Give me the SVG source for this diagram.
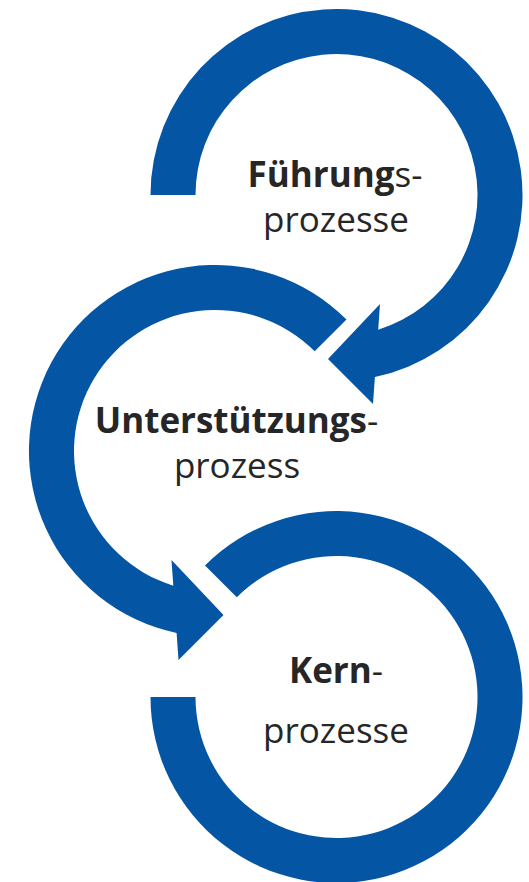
<svg xmlns="http://www.w3.org/2000/svg" width="529" height="882" viewBox="0 0 529 882">
  <style>
    .ring { fill: #0455a4; stroke: none; }
    .lbl { font-family: "Open Sans", "Noto Sans", "Liberation Sans", sans-serif; font-size: 35px; fill: #262626; text-anchor: middle; }
    .b { font-weight: bold; }
  </style>
  <rect width="529" height="882" fill="#ffffff"/>
  <g id="connectors">
    <path id="ring-fuehrung" class="ring" d="M150.5,195 A186,186 0 1 1 374.9,377 L373,404 L328,359 L380,304 L378.2,329.7 A141,141 0 1 0 195.5,195 Z"/>
    <path id="ring-unterstuetzung" class="ring" d="M346.5,319.5 A186,186 0 1 0 176.6,633 L178.5,660 L223.5,615 L171.5,560 L173.3,585.7 A141,141 0 1 1 314.7,351.3 Z"/>
    <path id="ring-kern" class="ring" d="M205,565.5 A186,186 0 1 1 150.5,697 L195.5,697 A141,141 0 1 0 236.8,597.3 Z"/>
  </g>
  <g id="node-fuehrung">
    <text class="lbl" x="335" y="187"><tspan class="b">Führung</tspan>s-</text>
    <text class="lbl" x="336" y="232">prozesse</text>
  </g>
  <g id="node-unterstuetzung">
    <text class="lbl" x="236.5" y="433"><tspan class="b">Unterstützungs</tspan>-</text>
    <text class="lbl" x="237" y="478">prozess</text>
  </g>
  <g id="node-kern">
    <text class="lbl" x="336" y="683"><tspan class="b">Kern</tspan>-</text>
    <text class="lbl" x="336" y="743">prozesse</text>
  </g>
</svg>
